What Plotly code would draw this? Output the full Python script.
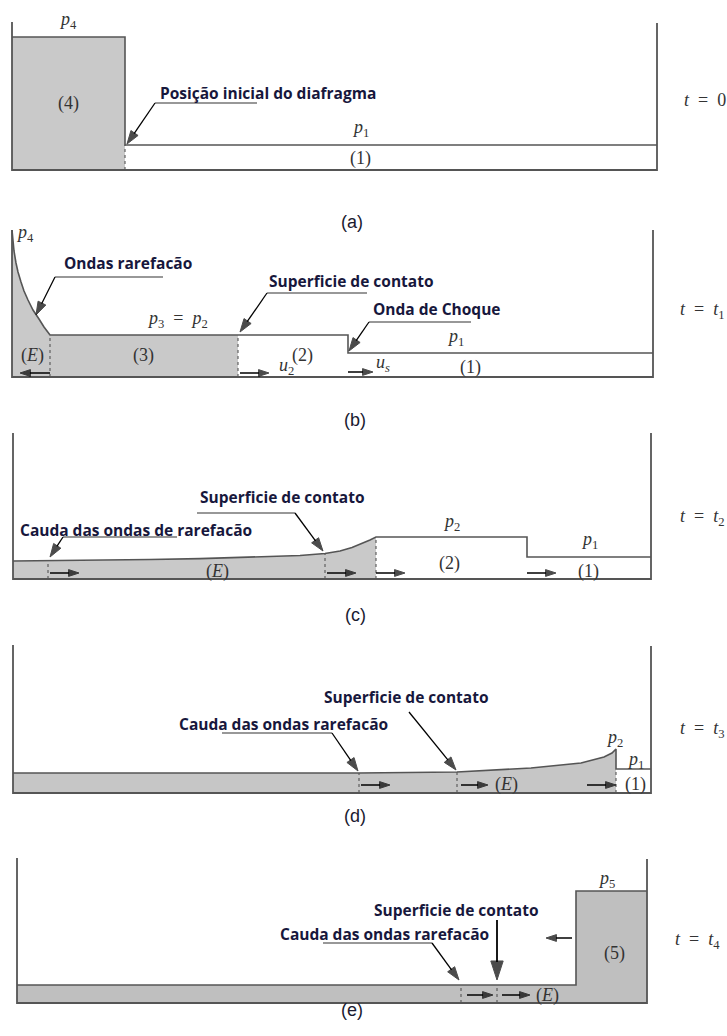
import plotly.graph_objects as go

W, H = 727, 1036

# ---------------------------------------------------------------
# Page placement of the five tube sketches (stages a..e), in px
# ---------------------------------------------------------------
tube_left = [12, 12, 13, 13, 17]
tube_floor = [170, 377, 579, 793, 1003]
band_top = [0, 200, 410, 610, 820]
band_bottom = [200, 410, 610, 820, 1036]

# Tube walls: length along the tube, left / right wall heights
tube_length = [645, 641, 638, 638, 630]
wall_left_h = [148, 147, 146, 148, 145]
wall_right_h = [147, 147, 146, 147, 144]

# ---------------------------------------------------------------
# Pressure profile along the tube at each instant (position, level)
# ---------------------------------------------------------------
a_x = [0, 113, 113, 645]
a_p = [133, 133, 25, 25]

b_x = [0, 1, 2, 4, 6, 9, 12, 16, 21, 27, 32, 38, 226, 336, 336, 641]
b_p = [147, 136, 126, 114, 105, 95, 86, 77, 67, 58, 50, 42, 42, 42, 24, 24]

c_x = [0, 37, 87, 137, 187, 237, 287, 312, 327, 339, 349, 357, 363, 514, 514, 638]
c_p = [18, 18.3, 18.8, 19.5, 20.4, 21.6, 23.5, 25.5, 28, 31.5, 35.5, 39, 42, 42, 22, 22]

d_x = [0, 346, 444, 518, 568, 591, 599, 603, 603, 638]
d_p = [20, 20, 21, 25, 30, 36, 40, 44, 24, 24]

e_x = [0, 559, 559, 630]
e_p = [18, 18, 112, 112]

# end of the shaded (driver) gas in each stage
shade_end = [113, 226, 363, 603, 630]

# wave heads/tails and interfaces (dotted markers)
a_marks = [113]
b_marks = [38, 226]
c_marks = [35, 312, 363]
d_marks = [346, 444, 603]
e_marks = [444, 480]

# gas / wave velocity arrows: from, to, height above floor
a_vel_from, a_vel_to, a_vel_h = [], [], []
b_vel_from, b_vel_to, b_vel_h = [38, 228, 336], [8, 257, 361], [4, 4, 5]
c_vel_from, c_vel_to, c_vel_h = [37, 314, 363, 514], [66, 343, 392, 543], [6, 6, 6, 6]
d_vel_from, d_vel_to, d_vel_h = [348, 448, 574], [377, 475, 603], [8, 8, 8]
e_vel_from, e_vel_to, e_vel_h = [450, 485, 555], [476, 513, 529], [8, 8, 65]

# region / pressure labels
a_lab = ["<i>p</i><sub>4</sub>", "(4)", "<i>p</i><sub>1</sub>", "(1)"]
a_lab_x = [56, 56, 348, 348]
a_lab_p = [150, 67, 42, 12]

b_lab = ["<i>p</i><sub>4</sub>", "<i>p</i><sub>3</sub>\u2002=\u2002<i>p</i><sub>2</sub>", "(<i>E</i>)", "(3)",
         "(2)", "<i>u</i><sub>2</sub>", "<i>u<sub>s</sub></i>", "<i>p</i><sub>1</sub>", "(1)"]
b_lab_x = [13, 165, 20, 131, 290, 274, 371, 443, 458]
b_lab_p = [144, 58, 22, 22, 22, 11, 14, 40, 10]

c_lab = ["<i>p</i><sub>2</sub>", "<i>p</i><sub>1</sub>", "(<i>E</i>)", "(2)", "(1)"]
c_lab_x = [438, 576, 204, 436, 575]
c_lab_p = [57, 39, 8, 16, 8]

d_lab = ["<i>p</i><sub>2</sub>", "<i>p</i><sub>1</sub>", "(1)", "(<i>E</i>)"]
d_lab_x = [601, 622, 622, 493]
d_lab_p = [55, 33, 9, 9]

e_lab = ["<i>p</i><sub>5</sub>", "(5)", "(<i>E</i>)"]
e_lab_x = [589, 597, 530]
e_lab_p = [124, 50, 8]

time_lab = ["<i>t</i>\u2002=\u20020", "<i>t</i>\u2002=\u2002<i>t</i><sub>1</sub>",
            "<i>t</i>\u2002=\u2002<i>t</i><sub>2</sub>", "<i>t</i>\u2002=\u2002<i>t</i><sub>3</sub>",
            "<i>t</i>\u2002=\u2002<i>t</i><sub>4</sub>"]
time_x = [693, 690, 689, 689, 680]
time_p = [70, 67, 62, 64, 63]

stage_lab = ["(a)", "(b)", "(c)", "(d)", "(e)"]
stage_px = [352, 355, 355, 355, 352]
stage_py = [210, 420, 615, 828, 1022]

# callouts: stage, text, text anchor, leader segment, arrow tail and tip
co_stage = [0, 1, 1, 1, 2, 2, 3, 3, 4, 4]
co_text = ["Posição inicial do diafragma", "Ondas rarefacão", "Superficie de contato",
           "Onda de Choque", "Superficie de contato", "Cauda das ondas de rarefacão",
           "Superficie de contato", "Cauda das ondas rarefacão", "Superficie de contato",
           "Cauda das ondas rarefacão"]
co_tx = [146, 50, 255, 359, 185, 5, 309, 164, 355, 261]
co_ty = [77, 114, 96, 68, 82, 49, 96, 69, 93, 69]
co_lx0 = [143, 43, 255, 357, 184, 50, None, 209, None, 306]
co_lx1 = [245, 151, 355, 459, 282, 164, None, 319, None, 415]
co_ly = [67, 100, 84, 55, 66, 42, None, 60, None, 60]
co_tail_x = [143, 43, 255, 357, 282, 50, 396, 319, 480, 415]
co_tail_y = [67, 100, 84, 55, 66, 42, 81, 60, 83, 60]
co_tip_x = [115, 24, 228, 337, 310, 37, 443, 345, 480, 442]
co_tip_y = [26, 62, 45, 26, 28, 22, 23, 22, 23, 23]

profiles = [(a_x, a_p), (b_x, b_p), (c_x, c_p), (d_x, d_p), (e_x, e_p)]
marks = [a_marks, b_marks, c_marks, d_marks, e_marks]
vels = [(a_vel_from, a_vel_to, a_vel_h), (b_vel_from, b_vel_to, b_vel_h),
        (c_vel_from, c_vel_to, c_vel_h), (d_vel_from, d_vel_to, d_vel_h),
        (e_vel_from, e_vel_to, e_vel_h)]
labels = [(a_lab, a_lab_x, a_lab_p), (b_lab, b_lab_x, b_lab_p), (c_lab, c_lab_x, c_lab_p),
          (d_lab, d_lab_x, d_lab_p), (e_lab, e_lab_x, e_lab_p)]

GAS = ["#c9c9c9", "#c9c9c9", "#c9c9c9", "#c6c6c6", "#bfbfbf"]
EDGE = "#555555"
INK = "#000000"
NAVY = "#17173c"
SERIF = "Liberation Serif, DejaVu Serif, serif"
CALLOUT = "Open Sans, Lato, sans-serif"


def level_at(xs, ps, x):
    """Lowest pressure level of a profile at position x (handles jumps)."""
    hits = [p for xx, p in zip(xs, ps) if xx == x]
    if hits:
        return min(hits)
    for k in range(len(xs) - 1):
        if xs[k] <= x <= xs[k + 1]:
            t = (x - xs[k]) / (xs[k + 1] - xs[k])
            return ps[k] + t * (ps[k + 1] - ps[k])
    return ps[-1]


def arrow(fig, xa, ya, x0, y0, x1, y1, width, head):
    """Straight arrow from (x0, y0) to (x1, y1) with a filled head at the end."""
    fig.add_trace(go.Scatter(x=[x0, x1], y=[y0, y1], mode="lines+markers",
                             line=dict(color=INK, width=width),
                             marker=dict(symbol="arrow", size=[0, head], angleref="previous",
                                         color=INK, line=dict(width=1, color=INK)),
                             xaxis=xa, yaxis=ya, hoverinfo="skip", showlegend=False))


fig = go.Figure()
annotations = []
layout_axes = {}

for i in range(5):
    n = "" if i == 0 else str(i + 1)
    xa, ya = "x" + n, "y" + n
    layout_axes["xaxis" + n] = dict(domain=[0, 1], range=[-tube_left[i], W - tube_left[i]],
                                    visible=False, fixedrange=True, anchor=ya)
    layout_axes["yaxis" + n] = dict(domain=[1 - band_bottom[i] / H, 1 - band_top[i] / H],
                                    range=[tube_floor[i] - band_bottom[i], tube_floor[i] - band_top[i]],
                                    visible=False, fixedrange=True, anchor=xa)
    xs, ps = profiles[i]
    L = tube_length[i]

    # shaded driver gas
    fx = [x for x in xs if x <= shade_end[i]]
    fp = [p for x, p in zip(xs, ps) if x <= shade_end[i]]
    fx = fx + [shade_end[i], 0]
    fp = fp + [0, 0]
    fig.add_trace(go.Scatter(x=fx, y=fp, fill="toself", fillcolor=GAS[i], mode="none",
                             xaxis=xa, yaxis=ya, hoverinfo="skip", showlegend=False))

    # dotted wave / interface markers
    for m in marks[i]:
        fig.add_trace(go.Scatter(x=[m, m], y=[0, level_at(xs, ps, m)], mode="lines",
                                 line=dict(color="#555555", width=1.1, dash="dot"),
                                 xaxis=xa, yaxis=ya, hoverinfo="skip", showlegend=False))

    # pressure profile
    fig.add_trace(go.Scatter(x=xs, y=ps, mode="lines", line=dict(color=EDGE, width=1.6),
                             xaxis=xa, yaxis=ya, hoverinfo="skip", showlegend=False))

    # tube walls and floor
    fig.add_trace(go.Scatter(x=[0, 0, L, L], y=[wall_left_h[i], 0, 0, wall_right_h[i]],
                             mode="lines", line=dict(color=EDGE, width=1.8),
                             xaxis=xa, yaxis=ya, hoverinfo="skip", showlegend=False))

    # velocity arrows
    vf, vt, vh = vels[i]
    for x0, x1, h in zip(vf, vt, vh):
        arrow(fig, xa, ya, x0, h, x1, h, 1.5, 11)

    # labels
    txt, lx, lp = labels[i]
    for t, x, p in zip(txt, lx, lp):
        annotations.append(dict(xref=xa, yref=ya, x=x, y=p, text=t, showarrow=False,
                                font=dict(family=SERIF, size=18, color="#333333")))

    annotations.append(dict(xref=xa, yref=ya, x=time_x[i], y=time_p[i], text=time_lab[i],
                            showarrow=False, font=dict(family=SERIF, size=18, color="#333333")))
    annotations.append(dict(xref="paper", yref="paper", x=stage_px[i] / W, y=1 - stage_py[i] / H,
                            text=stage_lab[i], showarrow=False,
                            font=dict(family="Liberation Sans, Arial, sans-serif", size=18,
                                      color="#1a1a30")))

# callouts
for k in range(len(co_text)):
    i = co_stage[k]
    n = "" if i == 0 else str(i + 1)
    xa, ya = "x" + n, "y" + n
    annotations.append(dict(xref=xa, yref=ya, x=co_tx[k], y=co_ty[k], text="<b>%s</b>" % co_text[k],
                            xanchor="left", yanchor="middle", showarrow=False,
                            font=dict(family=CALLOUT, size=15.5, color=NAVY)))
    if co_lx0[k] is not None:
        fig.add_trace(go.Scatter(x=[co_lx0[k], co_lx1[k]], y=[co_ly[k], co_ly[k]], mode="lines",
                                 line=dict(color="#333333", width=1.2),
                                 xaxis=xa, yaxis=ya, hoverinfo="skip", showlegend=False))
    big = co_tail_x[k] == co_tip_x[k]
    arrow(fig, xa, ya, co_tail_x[k], co_tail_y[k], co_tip_x[k], co_tip_y[k],
          1.8 if big else 1.3, 20 if big else 14)

fig.update_layout(width=W, height=H, margin=dict(l=0, r=0, t=0, b=0),
                  paper_bgcolor="white", plot_bgcolor="white",
                  annotations=annotations, showlegend=False, **layout_axes)

fig.write_html("out.html", config={"displayModeBar": False})
